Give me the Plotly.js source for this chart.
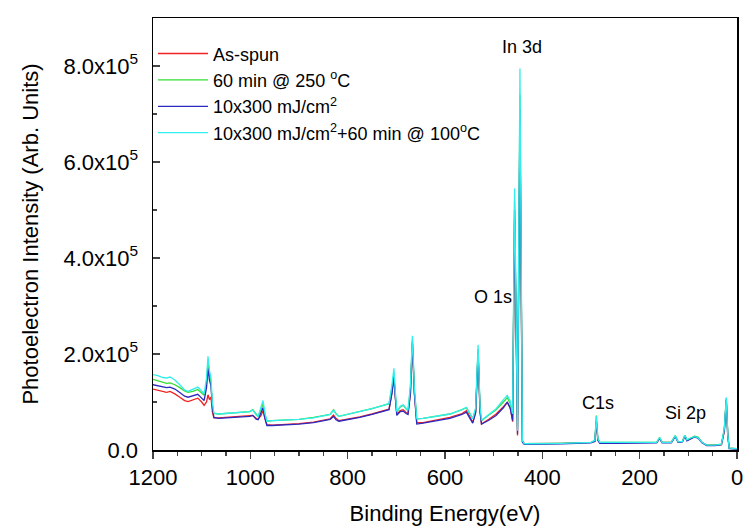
<!DOCTYPE html>
<html>
<head>
<meta charset="utf-8">
<script src="https://cdn.plot.ly/plotly-3.0.1.min.js"></script>
<style>html,body{margin:0;padding:0;background:#fff;}#chart{width:744px;height:530px;}</style>
</head>
<body>
<div id="chart"></div>
<script>
// Binding energy (eV)
const energy = [1200,1190,1180,1172,1165,1155,1145,1135,1128,1118,1108,1100,1095,1090,1087,1084,1081,1078,1075,1065,1050,1030,1010,1001,995,988,984,978,974,970,966,955,930,900,870,845,836,829,824,818,800,775,750,727,715,709,705,702,699,692,686,680,676,671,667,663,658,645,620,590,565,556,550,543,537,532,528,525,510,495,480,472,466,461,457,451,446,441,437,420,390,360,330,300,292,289,286,282,250,200,165,159,154,135,127,121,112,107,103,95,87,80,72,62,45,32,26,22,19,16,5,0];
// Intensities in units of 10^3 counts
const asSpun = [127,124,121,120,122,117,110,103,101,104,108,100,93,100,115,105,110,80,67,67,68,69,70,71,72,66,64,72,82,66,53,52,53,55,58,62,65,73,66,61,64,69,75,82,85,120,150,110,74,82,84,78,76,120,222,120,57,57,62,68,76,82,72,57,80,200,80,54,64,75,90,99,88,59,480,30,690,20,13,13,13,14,15,16,18,61,22,15,15,16,16,24,16,16,29,17,18,30,20,24,28,26,16,10,10,11,40,105,30,4,3,3];
const min60at250 = [147,144,141,139,140,136,130,123,120,122,126,119,114,140,185,160,140,95,76,75,76,78,79,80,84,74,70,85,96,75,60,61,62,64,68,72,74,84,76,70,74,80,86,93,96,130,160,115,79,90,93,86,82,130,230,128,65,66,70,75,84,88,78,65,85,210,85,61,73,84,100,109,97,75,520,45,740,18,13,13,14,14,15,16,20,72,25,16,16,16,16,26,16,16,30,17,18,31,21,25,29,27,16,10,10,12,45,108,35,4,3,3];
const uv10x300 = [136,134,131,130,131,127,120,112,110,113,116,108,103,130,170,145,135,90,68,66,67,68,69,70,72,64,63,76,88,66,51,51,52,54,57,61,64,70,63,60,63,68,74,80,84,118,152,108,72,80,81,76,74,118,225,118,54,56,61,66,74,79,68,56,78,205,80,54,62,72,88,100,87,61,500,34,710,16,12,12,13,13,14,15,18,60,20,14,14,15,15,24,15,15,28,16,17,29,19,23,27,25,15,9,9,11,40,104,30,3,2,2];
const uvAnneal = [157,155,151,150,152,146,136,125,122,126,131,123,117,150,195,165,152,98,77,75,76,78,79,80,83,73,70,90,103,76,60,61,62,64,67,71,74,83,75,70,74,80,86,93,97,135,170,120,80,91,94,87,83,135,238,130,65,66,70,75,84,89,78,65,88,219,90,62,74,86,105,114,102,75,545,40,795,19,13,13,14,14,15,16,20,70,24,16,16,16,16,26,16,16,30,17,18,31,21,25,28,26,16,10,10,12,45,110,32,4,3,3];

const seriesNames = ['As-spun','60 min @ 250 <sup>o</sup>C','10x300 mJ/cm<sup>2</sup>','10x300 mJ/cm<sup>2</sup>+60 min @ 100<sup>o</sup>C'];
const seriesValues = [asSpun, min60at250, uv10x300, uvAnneal];
const seriesColors = ['#ee2222','#33dd33','#2b2bbf','#33eeee'];

const yTickVals = [0, 200000, 400000, 600000, 800000];
const yTickText = ['0.0','2.0x10<sup>5</sup>','4.0x10<sup>5</sup>','6.0x10<sup>5</sup>','8.0x10<sup>5</sup>'];
const xTickVals = [1200,1000,800,600,400,200,0];

const FONT = 'Liberation Sans, Arial, sans-serif';

const traces = seriesValues.map((vals, i) => ({
  type: 'scatter', mode: 'lines',
  x: energy, y: vals.map(v => v * 1000),
  name: seriesNames[i],
  line: {color: seriesColors[i], width: 1.3}
}));

const peakLabels = [
  {text: 'In 3d', x: 442, y: 840000},
  {text: 'O 1s', x: 501, y: 319000},
  {text: 'C1s', x: 286, y: 98000},
  {text: 'Si 2p', x: 105, y: 77000}
];

const layout = {
  width: 744, height: 530,
  margin: {l: 153, r: 7, t: 18, b: 80},
  paper_bgcolor: '#fff', plot_bgcolor: '#fff',
  font: {family: FONT, color: '#000'},
  showlegend: true,
  legend: {x: 0.0, y: 0.96, xanchor: 'left', yanchor: 'top', bgcolor: 'rgba(0,0,0,0)',
           font: {family: FONT, size: 18, color: '#000'}, itemwidth: 50, tracegroupgap: 0},
  xaxis: {
    range: [1200, 0], tickvals: xTickVals, ticks: 'outside', ticklen: 7, tickwidth: 1.5,
    minor: {dtick: 50, ticks: 'outside', ticklen: 4, tickwidth: 1.2, showgrid: false},
    showline: true, linecolor: '#000', linewidth: 1.5, mirror: true,
    showgrid: false, zeroline: false,
    tickfont: {family: FONT, size: 22, color: '#000'},
    title: {text: 'Binding Energy(eV)', font: {family: FONT, size: 22, color: '#000'}, standoff: 16}
  },
  yaxis: {
    range: [0, 900000], tickvals: yTickVals, ticktext: yTickText, ticks: 'inside', ticklen: 7, tickwidth: 1.5,
    minor: {dtick: 100000, tick0: 0, ticks: 'inside', ticklen: 4, tickwidth: 1.2, showgrid: false},
    showline: true, linecolor: '#000', linewidth: 1.5, mirror: true,
    showgrid: false, zeroline: false, ticklabelstandoff: 9,
    tickfont: {family: FONT, size: 22, color: '#000'},
    title: {text: 'Photoelectron Intensity (Arb. Units)', font: {family: FONT, size: 22, color: '#000'}, standoff: 19}
  },
  annotations: peakLabels.map(p => ({
    text: p.text, x: p.x, y: p.y, xref: 'x', yref: 'y', showarrow: false,
    font: {family: FONT, size: 18, color: '#000'}
  }))
};

Plotly.newPlot('chart', traces, layout, {displayModeBar: false, staticPlot: true});
</script>
</body>
</html>
